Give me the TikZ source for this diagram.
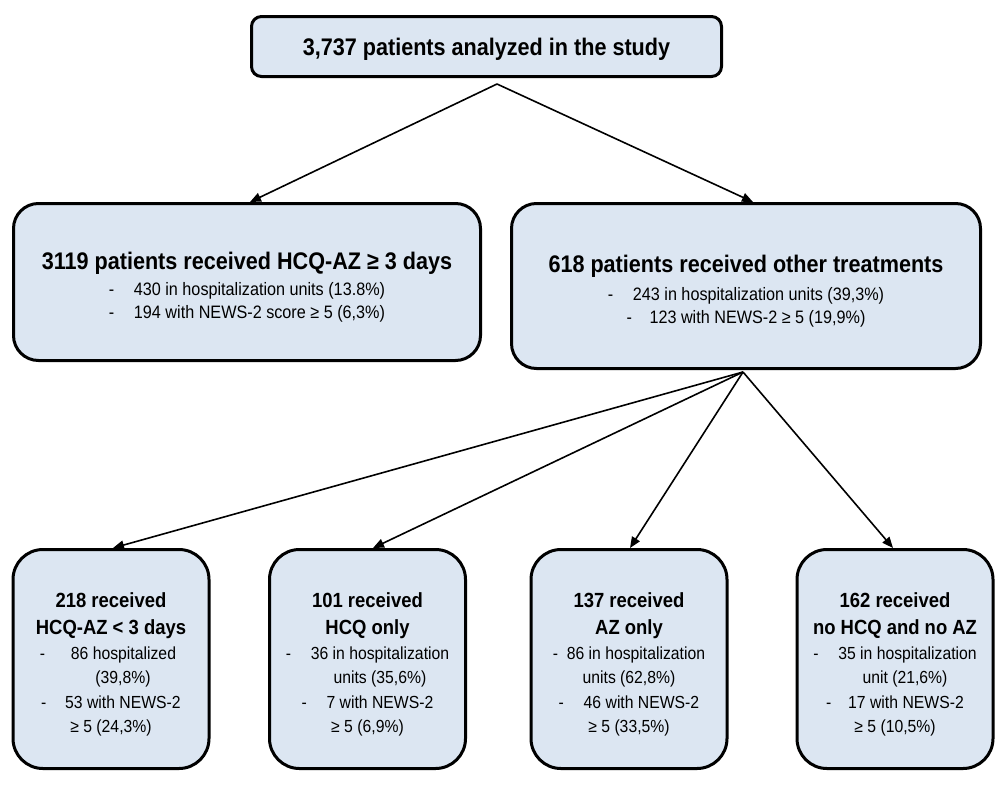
\documentclass[tikz,border=0pt]{standalone}
\usepackage{fontspec}
\setmainfont{Liberation Sans}[FakeStretch=0.9]
\usetikzlibrary{arrows.meta}
\definecolor{boxfill}{RGB}{220,230,242}
\tikzset{
  box/.style={draw=black, line width=3pt, fill=boxfill, align=center, inner sep=0pt},
  topbox/.style={box, rounded corners=10pt},
  midbox/.style={box, rounded corners=25pt, font=\fontsize{18}{23}\selectfont},
  lowbox/.style={box, rounded corners=30pt, font=\fontsize{17.5}{24.5}\selectfont,
                 minimum width=196pt, minimum height=219pt},
  conn/.style={line width=1.6pt, -{Triangle[length=11pt,width=9pt]}},
}
\newcommand\ditem[2]{\makebox[#1][l]{-}#2}
\newcommand\bigttl[1]{{\fontsize{24}{28}\selectfont\bfseries #1}}
\newcommand\lowttl[1]{{\fontsize{20.5}{27}\selectfont\bfseries #1}}
\begin{document}
\begin{tikzpicture}[x=1pt,y=-1pt]
\useasboundingbox (0,0) rectangle (1003,790);

\node[topbox, minimum width=470pt, minimum height=60pt] (top) at (486.5,46.5)
  {\rule{0pt}{22pt}\bigttl{3,737 patients analyzed in the study}};

\node[midbox, minimum width=467pt, minimum height=157pt] (ml) at (247,282)
  {\rule{0pt}{26.8pt}\bigttl{3119 patients received HCQ-AZ ≥ 3 days}\\[3pt]
   \ditem{25pt}{430 in hospitalization units (13.8\%)}\\
   \ditem{25pt}{194 with NEWS-2 score ≥ 5 (6,3\%)}};

\node[midbox, minimum width=469pt, minimum height=165pt] (mr) at (746,286)
  {\rule{0pt}{26.8pt}\bigttl{618 patients received other treatments}\\[5pt]
   \ditem{25pt}{243 in hospitalization units (39,3\%)}\\
   \ditem{23pt}{123 with NEWS-2 ≥ 5 (19,9\%)}};

\node[lowbox] (b1) at (111,659)
  {\rule{0pt}{25.7pt}\lowttl{218 received}\\[2.5pt]
   \lowttl{HCQ-AZ < 3 days}\\
   \hspace*{-6pt}\ditem{31pt}{86 hospitalized}\\
   \hspace*{24pt}(39,8\%)\\
   \ditem{24pt}{53 with NEWS-2}\\
   ≥ 5 (24,3\%)};

\node[lowbox] (b2) at (367.5,659)
  {\rule{0pt}{25.7pt}\lowttl{101 received}\\[2.5pt]
   \lowttl{HCQ only}\\
   \ditem{25pt}{36 in hospitalization}\\
   \hspace*{25pt}units (35,6\%)\\
   \ditem{25pt}{7 with NEWS-2}\\
   ≥ 5 (6,9\%)};

\node[lowbox] (b3) at (629,659)
  {\rule{0pt}{25.7pt}\lowttl{137 received}\\[2.5pt]
   \lowttl{AZ only}\\
   \ditem{14pt}{86 in hospitalization}\\
   units (62,8\%)\\
   \ditem{25pt}{46 with NEWS-2}\\
   ≥ 5 (33,5\%)};

\node[lowbox] (b4) at (895,659)
  {\rule{0pt}{25.7pt}\lowttl{162 received}\\[2.5pt]
   \lowttl{no HCQ and no AZ}\\
   \ditem{25pt}{35 in hospitalization}\\
   \hspace*{20pt}unit (21,6\%)\\
   \ditem{22pt}{17 with NEWS-2}\\
   ≥ 5 (10,5\%)};

\coordinate (s1) at (497,84);
\coordinate (s2) at (743,372);
\draw[conn] (s1) -- ([xshift=3pt]ml.north);
\draw[conn] (s1) -- ([xshift=7pt]mr.north);
\draw[conn] (s2) -- ([xshift=2pt]b1.north);
\draw[conn] (s2) -- ([xshift=5.5pt]b2.north);
\draw[conn] (s2) -- ([xshift=1pt]b3.north);
\draw[conn] (s2) -- ([xshift=-2pt]b4.north);
\end{tikzpicture}
\end{document}
